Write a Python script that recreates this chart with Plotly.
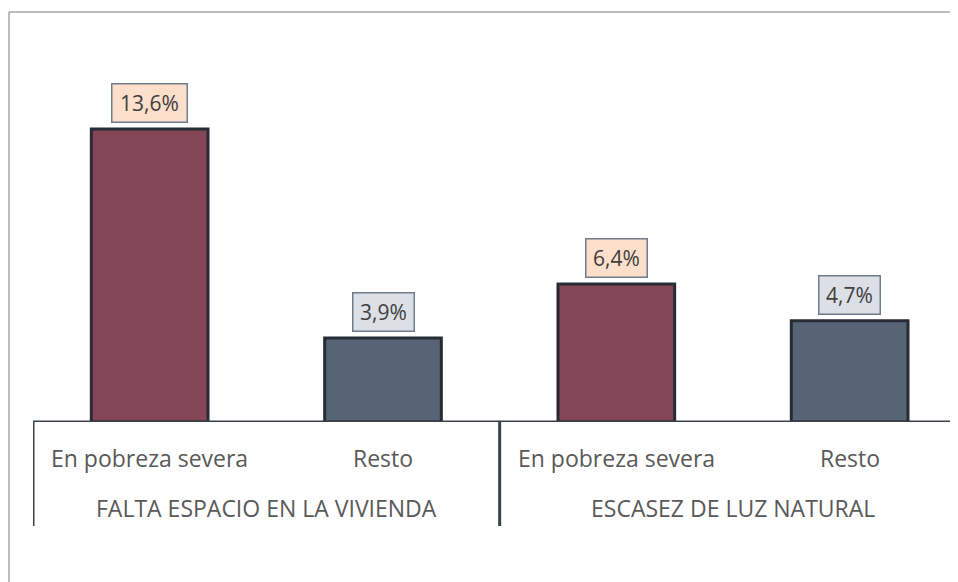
import plotly.graph_objects as go

groups = ["FALTA ESPACIO EN LA VIVIENDA", "ESCASEZ DE LUZ NATURAL"]
categories = ["En pobreza severa", "Resto", "En pobreza severa", "Resto"]
values = [13.6, 3.9, 6.4, 4.7]
value_labels = ["13,6%", "3,9%", "6,4%", "4,7%"]

bar_colors = ["#844656", "#566476", "#844656", "#566476"]
box_fills = ["#FDDFCB", "#DCDFE5", "#FDDFCB", "#DCDFE5"]

# the page body adds an 8px margin; positions below are page pixels
OFF = 8
W, H = 958 - OFF, 582 - OFF
L = 33 - OFF
T = 77 - OFF
BASE = 422 - OFF
R = 0
B = H - BASE
pw = W - L - R
ph = H - T - B
step = 233.33
xmax = -0.5 + pw / step
pxu = 21.55  # pixels per percent

def py(p):
    return (BASE - (p - OFF)) / ph

def px(p):
    return (p - OFF - L) / pw

xs = list(range(len(values)))

fig = go.Figure()
fig.add_trace(go.Bar(
    x=xs, y=values, width=0.5,
    marker=dict(color=bar_colors, line=dict(color="#272C34", width=3)),
    hoverinfo="skip", showlegend=False,
))

annotations = []
for i, (v, lab) in enumerate(zip(values, value_labels)):
    annotations.append(dict(
        x=i, y=v, xref="x", yref="y", text=lab, showarrow=False,
        yanchor="bottom", yshift=6,
        width=14 * len(lab) + 4, height=37,
        font=dict(family="Open Sans", size=21, color="#404040"),
        bgcolor=box_fills[i], bordercolor="#6E7C8E", borderwidth=1.5, borderpad=0,
    ))
for i, c in enumerate(categories):
    annotations.append(dict(
        x=i, y=py(458), xref="x", yref="paper", text=c, showarrow=False,
        yanchor="middle", font=dict(family="Open Sans", size=23, color="#595959"),
    ))
for g, name in enumerate(groups):
    annotations.append(dict(
        x=2 * g + 0.5, y=py(508), xref="x", yref="paper", text=name, showarrow=False,
        yanchor="middle", font=dict(family="Open Sans", size=23, color="#595959"),
    ))

shapes = [
    dict(type="line", xref="paper", yref="y", x0=0, x1=1, y0=0, y1=0,
         line=dict(color="#3A414B", width=3)),
    dict(type="line", xref="x", yref="paper", x0=-0.5, x1=-0.5, y0=0, y1=py(526),
         line=dict(color="#3A414B", width=3)),
    dict(type="line", xref="x", yref="paper", x0=1.5, x1=1.5, y0=0, y1=py(526),
         line=dict(color="#3A414B", width=3)),
    dict(type="line", xref="paper", yref="paper", x0=px(9), x1=px(958), y0=py(12), y1=py(12),
         line=dict(color="#A6A6A6", width=1.5)),
    dict(type="line", xref="paper", yref="paper", x0=px(9), x1=px(9), y0=py(12), y1=py(582),
         line=dict(color="#A6A6A6", width=1.5)),
]

fig.update_layout(
    width=W, height=H,
    margin=dict(l=L, r=R, t=T, b=B),
    paper_bgcolor="white", plot_bgcolor="white",
    xaxis=dict(range=[-0.5, xmax], showticklabels=False, showgrid=False,
               zeroline=False, showline=False, fixedrange=True),
    yaxis=dict(range=[0, ph / pxu], showticklabels=False, showgrid=False,
               zeroline=False, showline=False, fixedrange=True),
    annotations=annotations,
    shapes=shapes,
)

fig.write_html("out.html")
